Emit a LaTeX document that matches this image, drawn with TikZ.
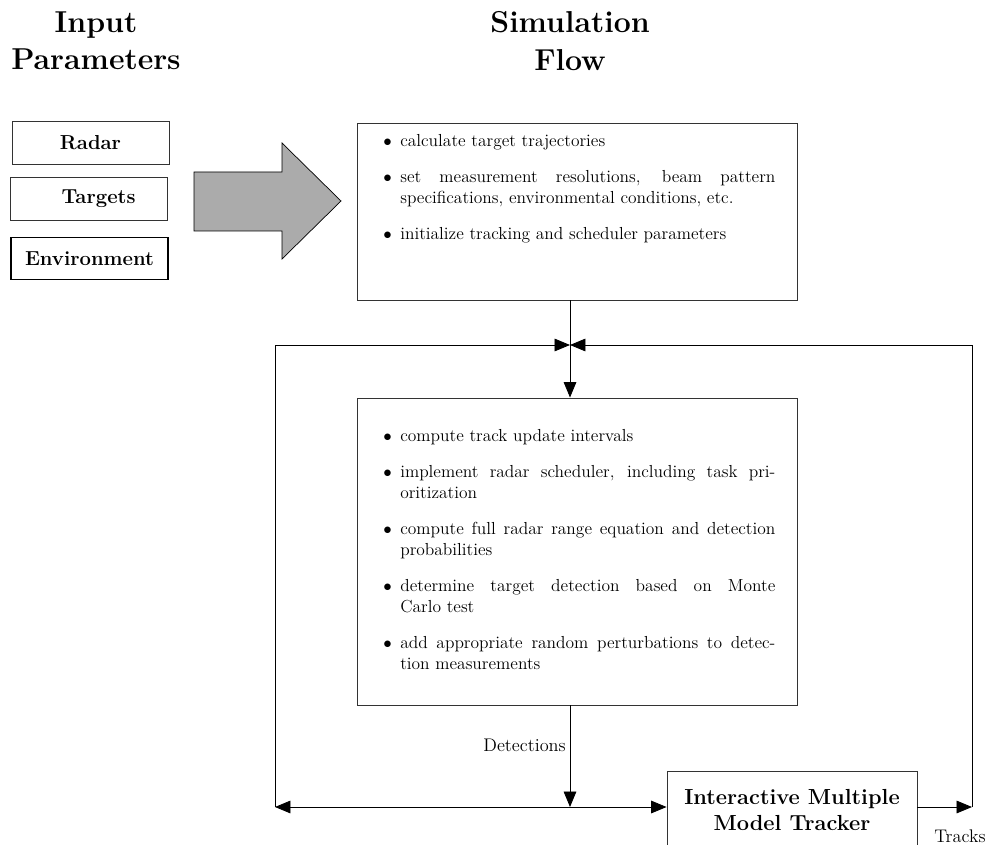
\documentclass[tikz,border=0pt]{standalone}
\usetikzlibrary{arrows.meta}
\begin{document}
% bullet entry with a hanging indent; lines are broken by hand
\newcommand{\blt}[1]{\par\noindent\hangindent=0.425cm\hangafter=1\makebox[0.425cm][l]{$\bullet$}#1\par}
\newcommand{\itemgap}{\vspace{10.5pt}}
\begin{tikzpicture}[x=0.025cm, y=-0.025cm,
  >={Triangle[length=11pt, width=9pt]},
  inbox/.style={draw=black!80, line width=0.6pt, minimum width=3.925cm, minimum height=1.06cm,
    inner sep=0pt, font=\Large\bfseries},
  stagebox/.style={draw=black!80, line width=0.6pt, minimum width=11cm, inner sep=0pt},
  bullets/.style={anchor=north west, inner sep=0pt, text width=9.8cm, align=justify,
    font=\fontsize{12.4}{15}\selectfont},
  title/.style={anchor=north, inner sep=0pt, align=center, font=\fontsize{21.5}{27}\selectfont\bfseries},
  flow/.style={line width=0.6pt, ->},
  lbl/.style={inner sep=0pt, font=\fontsize{13}{15}\selectfont},
  bigarrow/.style={draw=black, line width=0.5pt, fill=black!33}]

\useasboundingbox (0,0) rectangle (990,845);
\clip (0,0) rectangle (990,845);

% column headings
\node[title] (inhead) at (96,11) {Input\\Parameters};
\node[title] (simhead) at (570,11) {Simulation\\Flow};

% input parameter boxes
\node[inbox] (radar) at (90.5,143) {Radar};
\node[inbox] (targets) at (88.5,199) {\hspace{0.5cm}Targets};
\node[inbox, draw=black, line width=0.8pt] (env) at (89.5,258.5) {Environment};

% block arrow feeding the setup stage
\draw[bigarrow] (194,172) -- (282,172) -- (282,143) -- (341,201) -- (282,259)
  -- (282,231) -- (194,231) -- cycle;

% setup stage
\node[stagebox, minimum height=4.425cm] (setup) at (577,211.5) {};
\node[bullets] (setuptext) at (383,125) {%
  \blt{calculate target trajectories}\itemgap
  \blt{set measurement resolutions, beam pattern\linebreak specifications, environmental conditions, etc.}\itemgap
  \blt{initialize tracking and scheduler parameters}};

% simulation loop stage
\node[stagebox, minimum height=7.675cm] (sim) at (577,551.5) {};
\node[bullets] (simtext) at (383,420) {%
  \blt{compute track update intervals}\itemgap
  \blt{implement radar scheduler, including task pri-\linebreak oritization}\itemgap
  \blt{compute full radar range equation and detection\linebreak probabilities}\itemgap
  \blt{determine target detection based on Monte\linebreak Carlo test}\itemgap
  \blt{add appropriate random perturbations to detec-\linebreak tion measurements}};

% tracker
\node[draw=black!80, line width=0.6pt, minimum width=6.25cm, minimum height=1.95cm,
  inner sep=0pt, align=center, font=\fontsize{15.5}{19}\selectfont\bfseries] (imm) at (792,810)
  {Interactive Multiple\\Model Tracker};

% junctions and corners of the feedback loop
\coordinate (J) at (570,345);
\coordinate (bl) at (275,807);
\coordinate (br) at (972,807);

\draw[flow] (J |- setup.south) -- (J |- sim.north);
\draw[flow] (J |- sim.south) -- (J |- bl);
\draw[flow, <->] (bl) -- (imm.west |- bl);
\draw[flow] (bl) |- (J);
\draw[flow] (imm.east |- br) -- (br);
\draw[flow] (br) |- (J);

\node[lbl, anchor=base east] (det) at (566,751) {Detections};
\node[lbl, anchor=base west] (trk) at (934,842) {Tracks};
\end{tikzpicture}
\end{document}
